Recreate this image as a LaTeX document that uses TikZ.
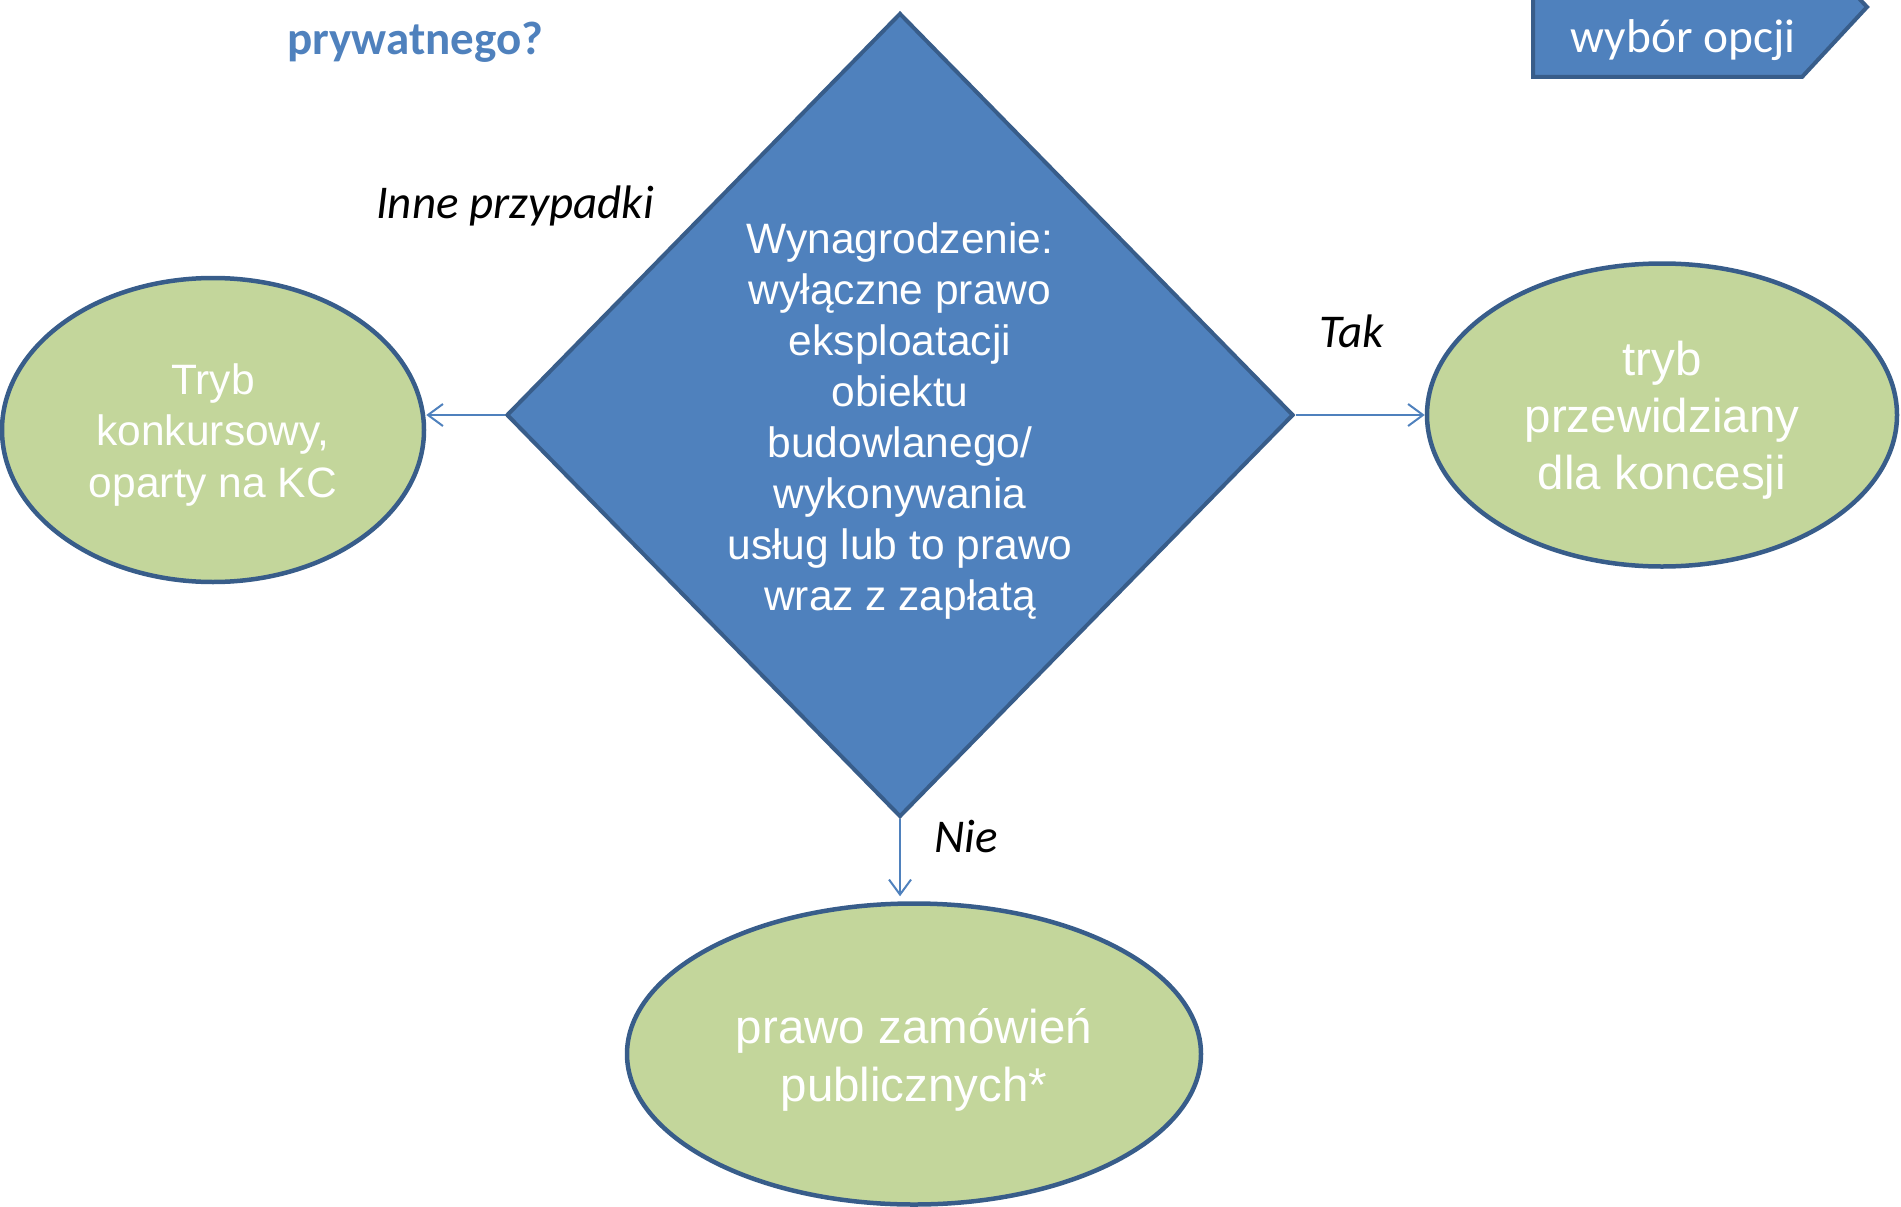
\documentclass[tikz,border=0pt]{standalone}
\usepackage{fontspec}
\setmainfont{Liberation Sans}
\newfontfamily\calibri{Carlito}
\usetikzlibrary{shapes.geometric,arrows.meta}
\definecolor{dblue}{HTML}{4F81BD}
\definecolor{dborder}{HTML}{385D8A}
\definecolor{lgreen}{HTML}{C3D69B}
\tikzset{
  decision/.style={shape=diamond, draw=dborder, fill=dblue, line width=4pt, inner sep=0pt},
  outcome/.style={shape=ellipse, draw=dborder, fill=lgreen, line width=4.5pt, inner sep=0pt},
  intext/.style={text=white, align=center, inner sep=0pt},
  arr/.style={draw=dblue, line width=2pt, -{Straight Barb[length=15pt,width=22pt]}},
  lbl/.style={font=\calibri\itshape\fontsize{47}{56}\selectfont, anchor=base, text=black},
}
\begin{document}
\begin{tikzpicture}[x=1pt,y=-1pt]
\useasboundingbox (0,0) rectangle (1901,1207);
\clip (0,0) rectangle (1901,1207);
% header fragments
\node[anchor=base, text=dblue, font=\calibri\bfseries\fontsize{47}{56}\selectfont] (title) at (415,55) {prywatnego?};
\draw[draw=dborder, fill=dblue, line width=4pt] (1533,-63) -- (1802,-63) -- (1867,7) -- (1802,77) -- (1533,77) -- cycle;
\node[anchor=base, text=white, font=\calibri\fontsize{47.4}{56}\selectfont] (opt) at (1683,53) {wybór opcji};
% decision
\node[decision, minimum width=787pt, minimum height=804pt] (dia) at (900,415) {};
\node[intext, font=\fontsize{42.5}{51}\selectfont] (diat) at ([yshift=-6pt]dia.center)
  {Wynagrodzenie:\\wyłączne prawo\\eksploatacji\\obiektu\\budowlanego/\\wykonywania\\usług lub to prawo\\wraz z zapłatą};
% outcomes
\node[outcome, minimum width=422pt, minimum height=304pt] (L) at (213,430) {};
\node[intext, font=\fontsize{42.5}{51.5}\selectfont] (Lt) at ([yshift=-5pt]L.center) {Tryb\\konkursowy,\\oparty na KC};
\node[outcome, minimum width=470pt, minimum height=303pt] (R) at (1662,415) {};
\node[intext, font=\fontsize{47.5}{57}\selectfont] (Rt) at ([yshift=-5pt]R.center) {tryb\\przewidziany\\dla koncesji};
\node[outcome, minimum width=574pt, minimum height=301pt] (B) at (914,1054) {};
\node[intext, font=\fontsize{47.5}{58}\selectfont] (Bt) at ([yshift=-6pt]B.center) {prawo zamówień\\publicznych*};
% connectors
\draw[arr] (dia.west) -- (dia.west -| L.east);
\draw[arr] (dia.east) -- (R.west);
\draw[arr, shorten >=5pt] (dia.south) -- (dia.south |- B.north);
% labels
\node[lbl] (l1) at (515,218) {Inne przypadki};
\node[lbl] (l2) at (1352,347) {Tak};
\node[lbl] (l3) at (966,852) {Nie};
\end{tikzpicture}
\end{document}
